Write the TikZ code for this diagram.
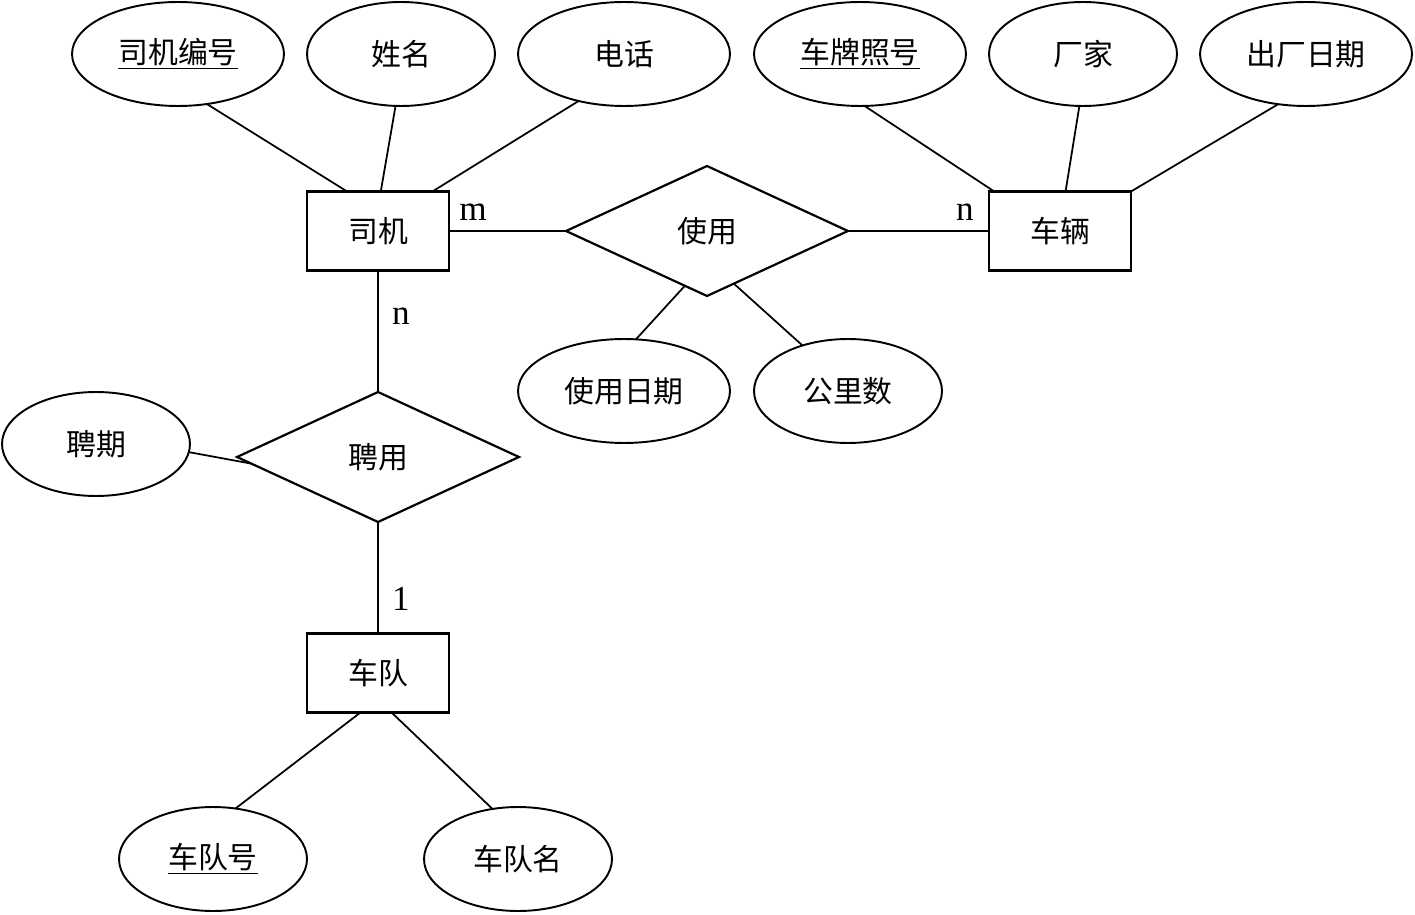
\documentclass[tikz,border=0pt]{standalone}
\usepackage{fontspec}
\setmainfont{Liberation Serif}
\newfontfamily\cjk{Noto Sans CJK SC}
\usetikzlibrary{shapes.geometric}

\tikzset{
  entity/.style={draw, line width=1.4pt, minimum width=2.84cm, minimum height=1.58cm,
    inner sep=0pt, outer sep=0pt, font=\cjk\fontsize{17}{19}\selectfont},
  attr/.style={draw, ellipse, line width=1.1pt, minimum width=3.76cm, minimum height=2.08cm,
    inner sep=0pt, outer sep=0pt, font=\cjk\fontsize{17}{19}\selectfont},
  wattr/.style={attr, minimum width=4.24cm},
  rel/.style={draw, diamond, line width=1.25pt, minimum width=5.64cm, minimum height=2.6cm,
    inner sep=0pt, outer sep=0pt, font=\cjk\fontsize{17}{19}\selectfont},
  card/.style={inner sep=0pt, font=\fontsize{20}{22}\selectfont},
  link/.style={line width=1pt},
  hlink/.style={line width=1.5pt},
}

\begin{document}
\begin{tikzpicture}[x=0.02cm, y=-0.02cm]
    \useasboundingbox (0,0) rectangle (1415,915);
    % entities
    \node[entity] (sj) at (378,231) {司机};
    \node[entity] (cl) at (1060,231) {车辆};
    \node[entity] (cd) at (378,673) {车队};
    % relationships
    \node[rel] (sy) at (707,231) {使用};
    \node[rel] (py) at (378,457) {聘用};
    % attributes
    \node[wattr] (sjbh) at (178,54) {\underline{司机编号}};
    \node[attr] (xm) at (401,54) {姓名};
    \node[wattr] (dh) at (624,54) {电话};
    \node[wattr] (cphm) at (860,54) {\underline{车牌照号}};
    \node[attr] (cj) at (1083,54) {厂家};
    \node[wattr] (ccrq) at (1306,54) {出厂日期};
    \node[wattr] (syrq) at (624,391) {使用日期};
    \node[attr] (gls) at (848,391) {公里数};
    \node[attr] (pq) at (96,444) {聘期};
    \node[attr] (cdh) at (213,859) {\underline{车队号}};
    \node[attr] (cdm) at (518,859) {车队名};
    % cardinalities
    \node[card] (csj) at (473,212) {m};
    \node[card] (ccl) at (965,212) {n};
    \node[card] (cpy) at (401,316) {n};
    \node[card] (ccd) at (401,599) {1};
    % links
    \draw[hlink] (sj.east)--(sy.west);
    \draw[hlink] (sy.east)--(cl.west);
    \draw[link] (sj.south)--(py.north);
    \draw[link] (py.south)--(cd.north);
    \draw[link] (sjbh.-60)--(sj.128);
    \draw[link] (xm.-96)--(sj.86);
    \draw[link] (dh.-134)--(sj.36);
    \draw[link] (cphm.-85)--(cl.149);
    \draw[link] (cj.-94)--(cl.82);
    \draw[link] (ccrq.-119)--(cl.north east);
    \draw[link] (sy.-112)--(syrq.77);
    \draw[link] (sy.-63)--(gls.135);
    \draw[link] (pq.-5)--(py.183);
    \draw[link] (cd.-114)--(cdh.66);
    \draw[link] (cd.-71)--(cdm.117);
\end{tikzpicture}
\end{document}
